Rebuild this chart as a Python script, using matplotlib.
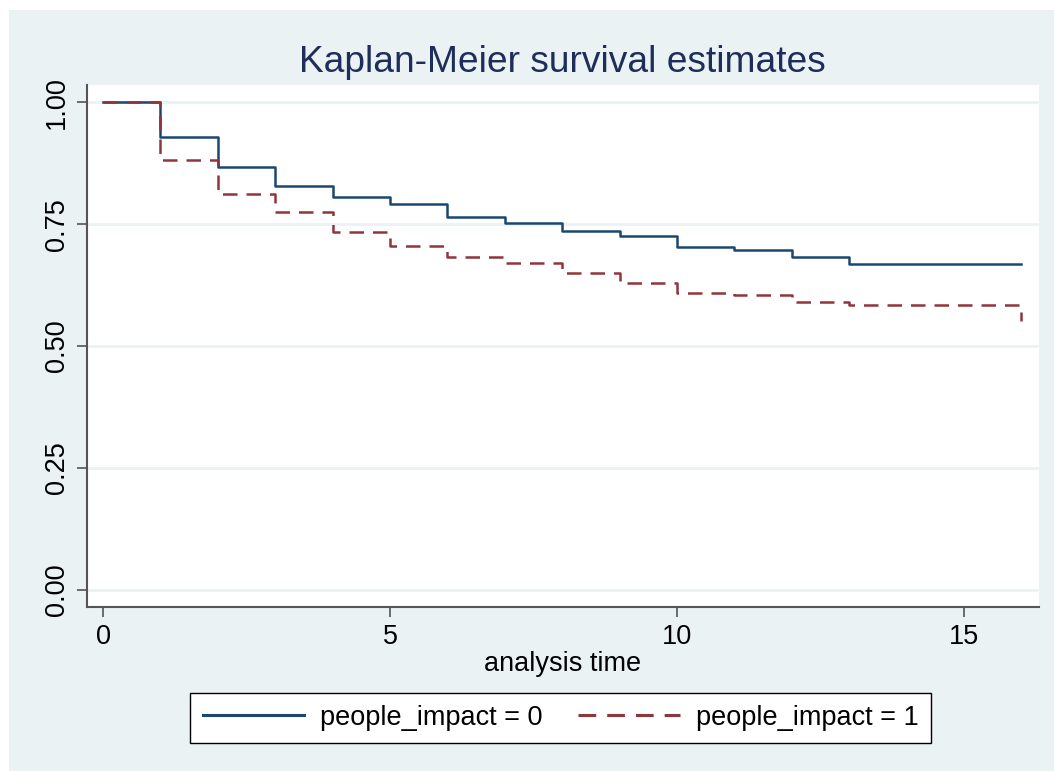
import matplotlib
matplotlib.use('Agg')
import matplotlib.pyplot as plt
from matplotlib.patches import Rectangle

# analysis time and Kaplan-Meier estimates
times = [0, 1, 2, 3, 4, 5, 6, 7, 8, 9, 10, 11, 12, 13, 14, 15, 16]
surv_0 = [1.0, 0.929, 0.867, 0.829, 0.806, 0.791, 0.764, 0.753, 0.737,
          0.726, 0.703, 0.697, 0.682, 0.668, 0.668, 0.668, 0.668]
surv_1 = [1.0, 0.882, 0.811, 0.774, 0.735, 0.706, 0.683, 0.670, 0.649,
          0.629, 0.608, 0.604, 0.591, 0.585, 0.585, 0.585, 0.552]
labels = ['people_impact = 0', 'people_impact = 1']
x_ticks = [0, 5, 10, 15]
y_ticks = [0.0, 0.25, 0.5, 0.75, 1.0]

plt.rcParams['font.family'] = ['Liberation Sans', 'DejaVu Sans']

bg = '#eaf2f3'
fig = plt.figure(figsize=(10.54, 7.71), dpi=100, facecolor='white')
# stata style graph region (white strip left and top)
fig.patches.append(Rectangle((9 / 1054, 0), 1, 1 - 10 / 771, transform=fig.transFigure,
                             facecolor=bg, edgecolor='none', zorder=-10))

ax = fig.add_axes([0.0823, 0.2127, 0.9855 - 0.0823, 0.8898 - 0.2127])
ax.set_facecolor('white')

for y in y_ticks:
    ax.axhline(y, color=bg, lw=2, zorder=0)

ax.step(times, surv_0, where='post', color='#1a476f', lw=1.8, label=labels[0], zorder=3)
ax.step(times, surv_1, where='post', color='#90353b', lw=1.8, linestyle=(0, (5.8, 3.6)),
        label=labels[1], zorder=3)

ax.set_xlim(-0.284, 16.30)
ax.set_ylim(-0.035, 1.0355)
ax.set_xticks(x_ticks)
ax.set_yticks(y_ticks)
ax.set_yticklabels(['%.2f' % v for v in y_ticks], rotation=90, va='center')

for s in ['top', 'right']:
    ax.spines[s].set_visible(False)
for s in ['left', 'bottom']:
    ax.spines[s].set_color('#555555')
    ax.spines[s].set_linewidth(1.5)
ax.tick_params(axis='both', length=7, width=1.2, color='#555555', labelsize=19.5, pad=5)

ax.set_xlabel('analysis time', fontsize=19.5, labelpad=1)
ax.set_title('Kaplan-Meier survival estimates', fontsize=26.7, color='#1e2d5a', pad=9)

leg = fig.legend(loc='center', bbox_to_anchor=(0.532, 0.069), ncol=2, fontsize=19.5,
                 frameon=True, fancybox=False, edgecolor='black', facecolor='white',
                 framealpha=1, handlelength=3.75, handletextpad=0.6, columnspacing=1.3,
                 borderpad=0.45)
leg.get_frame().set_linewidth(1.0)
for line in leg.get_lines():
    line.set_linewidth(2.2)

fig.savefig('out.png', dpi=100, facecolor=fig.get_facecolor())
